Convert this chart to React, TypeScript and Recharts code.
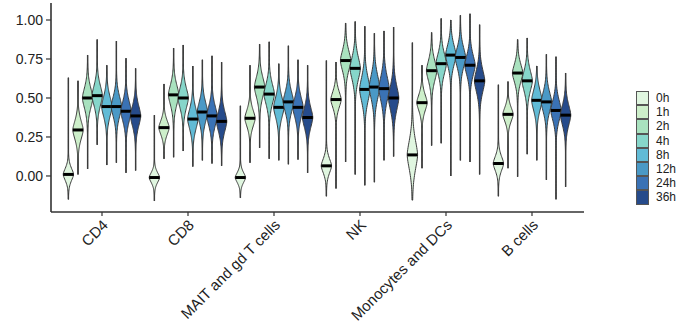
import React from "react";
import { ComposedChart, Bar, XAxis, YAxis } from "recharts";

const cellTypes = [
  "CD4",
  "CD8",
  "MAIT and gd T cells",
  "NK",
  "Monocytes and DCs",
  "B cells",
];
const timePoints = ["0h", "1h", "2h", "4h", "8h", "12h", "24h", "36h"];
const colors = [
  "#e0f6e0",
  "#cdefca",
  "#a9e2bf",
  "#86d6ca",
  "#61bbd6",
  "#4a99c6",
  "#3a72b5",
  "#264b8b",
];
const yTicks = [0, 0.25, 0.5, 0.75, 1];

// one value per time point (0h .. 36h)
const cd4Median = [0.01, 0.295, 0.5, 0.515, 0.445, 0.445, 0.415, 0.385];
const cd4Low = [-0.15, 0.01, 0.045, 0.2, 0.07, 0.085, 0.02, 0.035];
const cd4High = [0.63, 0.61, 0.775, 0.875, 0.71, 0.865, 0.755, 0.69];
const cd4Spread = [0.06, 0.09, 0.1, 0.1, 0.1, 0.1, 0.1, 0.1];

const cd8Median = [-0.01, 0.31, 0.52, 0.5, 0.365, 0.41, 0.385, 0.35];
const cd8Low = [-0.16, 0.11, 0.12, 0.16, 0.06, 0.1, 0.08, 0.065];
const cd8High = [0.39, 0.59, 0.82, 0.84, 0.705, 0.745, 0.77, 0.73];
const cd8Spread = [0.05, 0.07, 0.1, 0.1, 0.1, 0.1, 0.1, 0.1];

const maitMedian = [-0.01, 0.37, 0.57, 0.525, 0.44, 0.475, 0.44, 0.375];
const maitLow = [-0.14, 0.085, 0.18, 0.11, 0.1, 0.075, 0.105, 0.02];
const maitHigh = [0.45, 0.71, 0.845, 0.86, 0.72, 0.835, 0.745, 0.71];
const maitSpread = [0.05, 0.08, 0.1, 0.1, 0.1, 0.1, 0.1, 0.1];

const nkMedian = [0.065, 0.49, 0.74, 0.69, 0.555, 0.57, 0.56, 0.5];
const nkLow = [-0.13, -0.08, 0.09, 0.01, -0.06, -0.04, 0.1, 0.125];
const nkHigh = [0.74, 0.73, 0.98, 0.99, 0.96, 0.915, 0.93, 0.955];
const nkSpread = [0.07, 0.08, 0.1, 0.11, 0.12, 0.12, 0.12, 0.12];

const monoMedian = [0.135, 0.47, 0.675, 0.72, 0.775, 0.76, 0.71, 0.61];
const monoLow = [-0.155, 0.05, 0.195, 0.21, 0.0, 0.1, 0.09, 0.01];
const monoHigh = [0.855, 0.71, 0.92, 1.01, 1.0, 1.03, 1.04, 0.97];
const monoSpread = [0.14, 0.08, 0.1, 0.1, 0.1, 0.1, 0.1, 0.11];

const bMedian = [0.08, 0.395, 0.66, 0.61, 0.485, 0.475, 0.42, 0.39];
const bLow = [-0.13, 0.05, -0.005, 0.14, 0.1, -0.025, -0.15, -0.07];
const bHigh = [0.585, 0.605, 0.875, 0.885, 0.705, 0.78, 0.765, 0.66];
const bSpread = [0.07, 0.07, 0.09, 0.1, 0.1, 0.1, 0.1, 0.1];

const groups = [
  { med: cd4Median, lo: cd4Low, hi: cd4High, sd: cd4Spread },
  { med: cd8Median, lo: cd8Low, hi: cd8High, sd: cd8Spread },
  { med: maitMedian, lo: maitLow, hi: maitHigh, sd: maitSpread },
  { med: nkMedian, lo: nkLow, hi: nkHigh, sd: nkSpread },
  { med: monoMedian, lo: monoLow, hi: monoHigh, sd: monoSpread },
  { med: bMedian, lo: bLow, hi: bHigh, sd: bSpread },
];

const data = cellTypes.map((name, c) => {
  const row: any = { name, group: c };
  timePoints.forEach((t, i) => {
    row[t] = [groups[c].lo[i], groups[c].hi[i]];
  });
  return row;
});

const FONT = "'Liberation Sans', Arial, sans-serif";

const Violin = (props: any) => {
  const { x, y, width, height, payload, series, fill } = props;
  const g = groups[payload.group];
  const lo = g.lo[series];
  const hi = g.hi[series];
  const med = g.med[series];
  const sd = g.sd[series];
  const top = Math.min(y, y + height);
  const h = Math.abs(height);
  const toPx = (v: number) => top + ((hi - v) / (hi - lo)) * h;
  const cx = x + width / 2;
  const W = 5.2;
  const half = (v: number) =>
    W * Math.exp(-Math.pow(Math.abs(v - med) / sd, 1.6));

  const steps = 90;
  const right: string[] = [];
  const left: string[] = [];
  for (let k = 0; k <= steps; k++) {
    const v = hi - ((hi - lo) * k) / steps;
    const py = toPx(v);
    const w = half(v);
    right.push(`${(cx + w).toFixed(2)},${py.toFixed(2)}`);
    left.unshift(`${(cx - w).toFixed(2)},${py.toFixed(2)}`);
  }
  const d = `M${right.join("L")}L${left.join("L")}Z`;
  const my = toPx(med);
  return (
    <g>
      <line
        x1={cx}
        x2={cx}
        y1={toPx(hi)}
        y2={toPx(lo)}
        stroke="#454545"
        strokeWidth={1.4}
      />
      <path d={d} fill={fill} stroke="#3c3c3c" strokeWidth={1} />
      <line
        x1={cx - half(med)}
        x2={cx + half(med)}
        y1={my}
        y2={my}
        stroke="#000"
        strokeWidth={3}
      />
    </g>
  );
};

const AngledTick = ({ x, y, payload }: any) => (
  <g transform={`translate(${x + 7},${y + 8})`}>
    <text
      transform="rotate(-45)"
      textAnchor="end"
      fontSize={15}
      fill="#222"
      fontFamily={FONT}
    >
      {payload.value}
    </text>
  </g>
);

export default function App() {
  return (
    <div
      style={{
        position: "absolute",
        left: 0,
        top: 0,
        width: 692,
        height: 331,
        background: "#fff",
      }}
    >
      <ComposedChart
        width={692}
        height={331}
        data={data}
        margin={{ top: 3, right: 108, left: 0, bottom: 0 }}
        barCategoryGap={4.9}
        barGap={0.6}
      >
        <XAxis
          dataKey="name"
          type="category"
          padding={{ left: 8, right: 9 }}
          height={119}
          interval={0}
          tick={<AngledTick />}
          tickSize={4}
          axisLine={{ stroke: "#333", strokeWidth: 1.6 }}
          tickLine={{ stroke: "#333", strokeWidth: 1.2 }}
        />
        <YAxis
          type="number"
          domain={[-0.231, 1.109]}
          ticks={yTicks}
          allowDataOverflow
          width={51}
          tickSize={5}
          tickMargin={3}
          tickFormatter={(v: number) => v.toFixed(2)}
          tick={{ fontSize: 14, fill: "#222", fontFamily: FONT }}
          axisLine={{ stroke: "#333", strokeWidth: 1.6 }}
          tickLine={{ stroke: "#333", strokeWidth: 1.2 }}
        />
        {timePoints.map((t, i) => (
          <Bar
            key={t}
            dataKey={t}
            fill={colors[i]}
            isAnimationActive={false}
            shape={(p: any) => <Violin {...p} series={i} fill={colors[i]} />}
          />
        ))}
      </ComposedChart>
      <div
        style={{
          position: "absolute",
          left: 636,
          top: 91,
          fontFamily: FONT,
          fontSize: 12,
          color: "#222",
        }}
      >
        {timePoints.map((t, i) => (
          <div
            key={t}
            style={{ display: "flex", alignItems: "center", height: 14.2 }}
          >
            <div
              style={{
                width: 11,
                height: 12.2,
                background: colors[i],
                border: "1px solid #555",
                boxSizing: "content-box",
              }}
            />
            <span style={{ marginLeft: 7 }}>{t}</span>
          </div>
        ))}
      </div>
    </div>
  );
}
